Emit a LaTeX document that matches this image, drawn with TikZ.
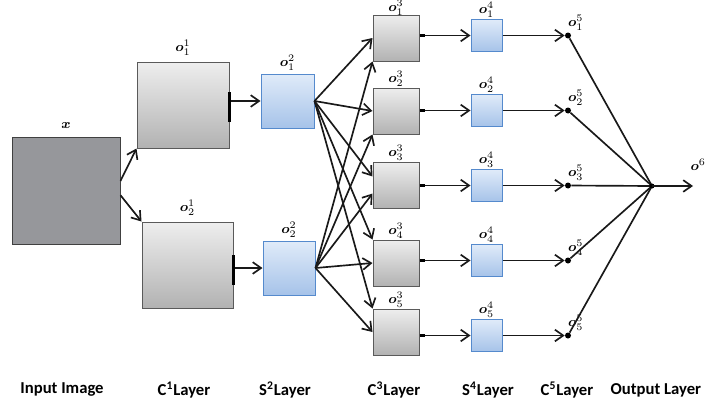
\documentclass[tikz,border=0pt]{standalone}
\usepackage{amsmath}
\usepackage{amssymb}
\usepackage{xcolor}
\usepackage{fontspec}
\setmainfont{Carlito}
\usetikzlibrary{arrows.meta}

\definecolor{inputgray}{RGB}{150,151,155}
\definecolor{boxtop}{RGB}{238,238,238}
\definecolor{boxbot}{RGB}{178,178,178}
\definecolor{boxline}{RGB}{90,90,90}
\definecolor{pooltop}{RGB}{224,235,249}
\definecolor{poolbot}{RGB}{166,195,233}
\definecolor{poolline}{RGB}{85,138,205}

\tikzset{
  conn/.style={-{Straight Barb[length=5pt,width=7pt]}, line width=1pt, black!90},
  plain/.style={line width=1pt, black!90},
  lbl/.style={inner sep=0.5pt, font=\footnotesize},
  layername/.style={font=\bfseries},
  inputbox/.style={draw=black!75, fill=inputgray, line width=0.6pt, minimum width=64.8pt, minimum height=64.2pt, inner sep=0pt},
  convbox/.style={draw=boxline, top color=boxtop, bottom color=boxbot, line width=0.6pt, inner sep=0pt},
  poolbox/.style={draw=poolline, top color=pooltop, bottom color=poolbot, line width=0.6pt, inner sep=0pt},
  dot/.style={circle, fill=black, inner sep=0pt, minimum size=3.6pt}
}

\begin{document}
\begin{tikzpicture}[x=0.6pt, y=-0.6pt]
\useasboundingbox (0,0) rectangle (707,407);

% input and first two layers
\node[inputbox, label={[lbl, yshift=4pt]above:$\boldsymbol{x}$}] (x) at (66,190.5) {};
\node[convbox, minimum width=55.2pt, minimum height=51.6pt, label={[lbl, yshift=3pt]above:$\boldsymbol{o}_1^1$}] (c11) at (183,105) {};
\node[convbox, minimum width=54.6pt, minimum height=51.6pt, label={[lbl, yshift=3pt]above:$\boldsymbol{o}_2^1$}] (c12) at (187.5,265) {};
\node[poolbox, minimum width=31.8pt, minimum height=32.4pt, label={[lbl, yshift=1pt]above:$\boldsymbol{o}_1^2$}] (s21) at (287.5,101) {};
\node[poolbox, minimum width=31.2pt, minimum height=32.4pt, label={[lbl, yshift=1pt]above:$\boldsymbol{o}_2^2$}] (s22) at (289,268) {};

% layers 3 to 5
\foreach \i/\yc/\yp/\ls in {1/38/35.5/-1.2pt, 2/111/110.5/0pt, 3/185/185.5/0pt, 4/263/260.5/0pt, 5/332/335.5/0pt} {
  \node[convbox, minimum width=27.6pt, minimum height=27.6pt, label={[lbl, yshift=\ls]above:$\boldsymbol{o}_{\i}^3$}] (c3\i) at (396,\yc) {};
  \node[poolbox, minimum width=18.6pt, minimum height=19.2pt, label={[lbl]above:$\boldsymbol{o}_{\i}^4$}] (s4\i) at (486.5,\yp) {};
  \node[dot, label={[lbl, xshift=-2pt, yshift=1pt]above right:$\boldsymbol{o}_{\i}^5$}] (c5\i) at (568,\yp) {};
}
\coordinate (out) at (652,186);
\coordinate (outend) at (693,186);
\node[lbl, anchor=east] (o6) at (707,165) {$\boldsymbol{o}^6$};

% connectors
\draw[conn] (x.10) -- (c11.south west);
\draw[conn] (x.-5) -- (c12.north west);
\draw[conn] (s21.west -| c11.east) -- (s21.west);
\draw[conn] (s22.west -| c12.east) -- (s22.west);
\draw[line width=1.4pt] (c11.east) ++(0,-13) -- ++(0,30);
\draw[line width=1.4pt] (c12.east) ++(0,-10) -- ++(0,30);

\draw[conn] (s21.east) -- (c31.west);
\draw[conn] (s21.east) -- (c32.west);
\draw[conn] (s21.east) -- (c33.160);
\draw[conn] (s21.east) -- (c34.north west);
\draw[conn] (s21.east) -- (c35.north west);
\draw[conn] (s22.east) -- (c31.south west);
\draw[conn] (s22.east) -- (c32.south west);
\draw[conn] (s22.east) -- (c33.200);
\draw[conn] (s22.east) -- (c34.west);
\draw[conn] (s22.east) -- (c35.west);

\foreach \i in {1,...,5} {
  \draw[conn] (s4\i.west -| c3\i.east) -- (s4\i.west);
  \draw[line width=2.2pt] (s4\i.west -| c3\i.east) -- ++(5,0);
  \draw[conn] (s4\i.east) -- (c5\i);
  \draw[plain] (c5\i) -- (out);
}
\fill (out) circle (1.5pt);
\draw[conn] (out) -- (outend);

% layer names
\node[layername] (n0) at (62,390) {Input Image};
\node[layername] (n1) at (184,390) {$\mathbf{C}^{\mathbf{1}}$Layer};
\node[layername] (n2) at (285,390) {S\textsuperscript{2}Layer};
\node[layername] (n3) at (394,390) {$\mathbf{C}^{\mathbf{3}}$Layer};
\node[layername] (n4) at (488,390) {$\mathbf{S}^{\mathbf{4}}$Layer};
\node[layername] (n5) at (567,390) {C\textsuperscript{5}Layer};
\node[layername, anchor=east] (n6) at (707,390) {Output Layer};
\end{tikzpicture}
\end{document}
